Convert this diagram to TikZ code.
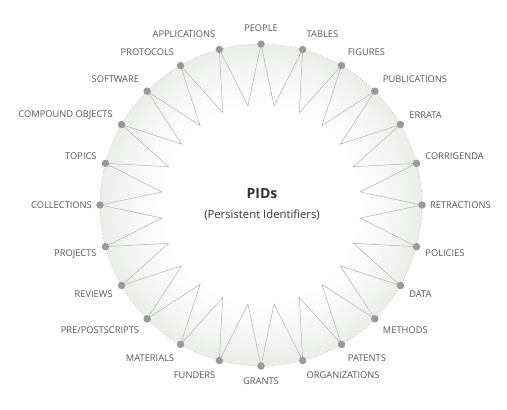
\documentclass[tikz,border=0pt]{standalone}
\usepackage{fontspec}
\setmainfont{Open Sans}
\definecolor{labcol}{HTML}{555555}
\definecolor{dotcol}{HTML}{9A9A9A}
\definecolor{starcol}{HTML}{B0B0B0}
\definecolor{rimcol}{HTML}{EBEDEB}
\definecolor{titlecol}{HTML}{333333}
\tikzset{
  dotnode/.style={circle, fill=dotcol, inner sep=0pt, minimum size=7.5bp},
  lab/.style={text=labcol, font=\fontsize{9.3bp}{11bp}\selectfont, inner sep=1bp},
  starline/.style={draw=starcol, line width=0.5bp},
  rimcircle/.style={draw=starcol, dotted, line width=0.6bp}
}
\begin{document}
\begin{tikzpicture}[x=1bp,y=1bp]
\useasboundingbox (-261,-204) rectangle (246,205);
\def\R{161}
\def\r{100}
% soft shaded rim
\foreach \k in {0,...,33}{
  \pgfmathsetmacro\rad{\R-2*\k}
  \pgfmathtruncatemacro\pc{100*(1-\k/33)^1.3}
  \fill[rimcol!\pc!white] (0,0) circle (\rad);
}
\draw[rimcircle] (0,0) circle (\R);
% dots and labels
\foreach \i in {0,...,23}{
  \pgfmathsetmacro\a{90-15*\i}
  \coordinate (p\i) at (\a:\R);
  \coordinate (q\i) at (\a-7.5:\r);
}
\foreach \i in {0,...,23}{
  \pgfmathtruncatemacro\j{mod(\i+1,24)}
  \draw[starline] (p\i) -- (q\i) -- (p\j);
}
\foreach \lab [count=\i from 0] in {PEOPLE,TABLES,FIGURES,PUBLICATIONS,ERRATA,CORRIGENDA,RETRACTIONS,POLICIES,DATA,METHODS,PATENTS,ORGANIZATIONS,GRANTS,FUNDERS,MATERIALS,PRE/POSTSCRIPTS,REVIEWS,PROJECTS,COLLECTIONS,TOPICS,COMPOUND OBJECTS,SOFTWARE,PROTOCOLS,APPLICATIONS}{
  \pgfmathsetmacro\a{90-15*\i}
  \pgfmathsetmacro\ld{3+4*abs(sin(\a))}
  \node[dotnode, label={[lab, label distance=\ld bp]\a:\lab}] (d\i) at (p\i) {};
}
\node[text=titlecol, font=\fontsize{14bp}{16bp}\selectfont\bfseries] (title) at (1,11) {PIDs};
\node[text=titlecol, font=\fontsize{11.3bp}{13bp}\selectfont] (sub) at (1,-10) {(Persistent Identifiers)};
\end{tikzpicture}
\end{document}
